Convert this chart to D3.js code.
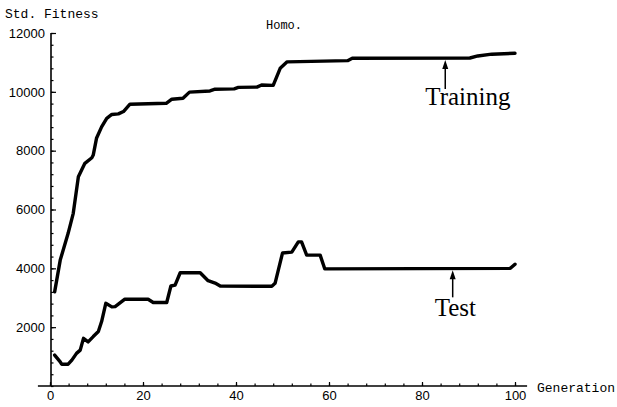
<!DOCTYPE html>
<html>
<head>
<meta charset="utf-8">
<title>Homo. fitness</title>
<style>
body {
    margin: 0px;
    overflow: hidden;
    background: #fff;
}
</style>
<script src="https://cdnjs.cloudflare.com/ajax/libs/d3/7.8.5/d3.min.js"></script>
</head>
<body>
<div id="chart"></div>
<script>

// values (generation, std. fitness)
var trainGen = [1, 2.2, 3.9, 5, 6.1, 7.5, 9, 9.3, 10, 11.1, 12.2, 13.3, 14.7, 15.8, 17.2, 25, 26.2, 28.6, 30, 34.4, 35.5, 39.6, 40.5, 44.5, 45.5, 48, 49.5, 51, 64, 65, 90.3, 92, 95, 100];
var trainVal = [3200, 4280, 5190, 5870, 7110, 7570, 7760, 7850, 8420, 8810, 9100, 9230, 9250, 9330, 9580, 9610, 9750, 9780, 9990, 10030, 10090, 10100, 10150, 10160, 10230, 10220, 10800, 11020, 11060, 11140, 11150, 11220, 11280, 11310];

var testGen = [1, 2.2, 2.5, 3.9, 4.7, 5.7, 6.5, 7.2, 8.2, 9.3, 10.4, 11.1, 12, 13.3, 14, 16.1, 21.1, 22.2, 25.1, 26, 26.9, 28, 32.3, 34, 35.5, 36.6, 47.7, 48.4, 50, 52, 53.4, 54.1, 55.2, 58.1, 59.1, 99, 100];
var testVal = [1050, 820, 740, 740, 880, 1110, 1220, 1620, 1500, 1680, 1850, 2190, 2810, 2690, 2700, 2950, 2950, 2840, 2840, 3400, 3430, 3850, 3850, 3580, 3500, 3400, 3390, 3490, 4520, 4550, 4900, 4900, 4450, 4450, 3980, 4000, 4140];

var xTicks = [0, 20, 40, 60, 80, 100];
var yTicks = [2000, 4000, 6000, 8000, 10000, 12000];

// label, generation of arrow, fitness at arrow
var notes = [
    {label: "Training", gen: 85, val: 11150, len: 29, dx: -20, dy: 45},
    {label: "Test", gen: 86.6, val: 4000, len: 27, dx: -18, dy: 46}
];

var width = 617, height = 407;

var svg = d3.select("#chart").append("svg")
    .attr("width", width)
    .attr("height", height);

var x = d3.scaleLinear().domain([0, 100]).range([50, 515]);
var y = d3.scaleLinear().domain([0, 12000]).range([386, 33]);

// axes lines
svg.append("line")
    .attr("x1", x(-2.6)).attr("x2", x(102.6))
    .attr("y1", y(0)).attr("y2", y(0))
    .attr("stroke", "#000").attr("stroke-width", 1.6);
svg.append("line")
    .attr("x1", x(0) + 1).attr("x2", x(0) + 1)
    .attr("y1", y(0)).attr("y2", y(12000))
    .attr("stroke", "#000").attr("stroke-width", 1.6);

var xAxis = svg.append("g")
    .attr("transform", "translate(0," + y(0) + ")")
    .call(d3.axisBottom(x).tickValues(xTicks).tickFormat(d3.format("d")).tickSizeInner(-4).tickSizeOuter(0).tickPadding(5));
var xMinor = svg.append("g")
    .attr("transform", "translate(0," + y(0) + ")")
    .call(d3.axisBottom(x).tickValues(d3.range(0, 101, 4)).tickSizeInner(-2.5).tickSizeOuter(0).tickFormat(""));

var yAxis = svg.append("g")
    .attr("transform", "translate(" + (x(0) + 1) + ",0)")
    .call(d3.axisLeft(y).tickValues(yTicks).tickFormat(d3.format("d")).tickSizeInner(-5).tickSizeOuter(0).tickPadding(6));
var yMinor = svg.append("g")
    .attr("transform", "translate(" + (x(0) + 1) + ",0)")
    .call(d3.axisLeft(y).tickValues(d3.range(0, 12001, 400)).tickSizeInner(-2.5).tickSizeOuter(0).tickFormat(""));

svg.selectAll(".domain").remove();
svg.selectAll(".tick line").attr("stroke", "#000").attr("stroke-width", 1.2);
svg.selectAll(".tick text")
    .attr("fill", "#000")
    .style("font-family", "'Liberation Sans', Arial, sans-serif")
    .style("font-size", "13px");

// lines
var line = d3.line()
    .x(function (d) { return x(d[0]); })
    .y(function (d) { return y(d[1]); });

function drawSeries(gens, vals) {
    svg.append("path")
        .datum(d3.zip(gens, vals))
        .attr("d", line)
        .attr("fill", "none")
        .attr("stroke", "#000")
        .attr("stroke-width", 3.4)
        .attr("stroke-linejoin", "round")
        .attr("stroke-linecap", "round");
}
drawSeries(trainGen, trainVal);
drawSeries(testGen, testVal);

// annotations
notes.forEach(function (n) {
    var ax = x(n.gen), ay = y(n.val) + 2;
    svg.append("line")
        .attr("x1", ax).attr("x2", ax)
        .attr("y1", ay + 6).attr("y2", ay + n.len)
        .attr("stroke", "#000").attr("stroke-width", 1.5);
    svg.append("path")
        .attr("d", "M" + ax + "," + ay + "L" + (ax - 3) + "," + (ay + 9) + "L" + (ax + 3) + "," + (ay + 9) + "Z")
        .attr("fill", "#000");
    svg.append("text")
        .attr("x", ax + n.dx)
        .attr("y", ay + n.dy)
        .attr("fill", "#000")
        .style("font-family", "'Liberation Serif', 'Times New Roman', serif")
        .style("font-size", "25px")
        .text(n.label);
});

// titles
var mono = "'Liberation Mono', 'DejaVu Sans Mono', monospace";
svg.append("text")
    .attr("x", 5).attr("y", 18)
    .style("font-family", mono).style("font-size", "13px")
    .text("Std. Fitness");
svg.append("text")
    .attr("x", 266).attr("y", 29)
    .style("font-family", mono).style("font-size", "12px")
    .text("Homo.");
svg.append("text")
    .attr("x", 537).attr("y", 392)
    .style("font-family", mono).style("font-size", "13px")
    .text("Generation");

</script>
</body>
</html>
